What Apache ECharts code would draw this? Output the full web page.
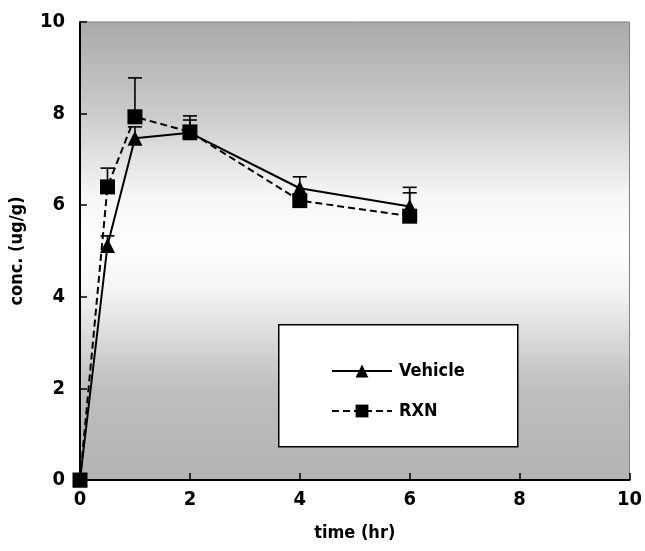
<!DOCTYPE html>
<html>
<head>
<meta charset="utf-8">
<script src="https://cdn.jsdelivr.net/npm/echarts@6/dist/echarts.min.js"></script>
<style>html,body{margin:0;padding:0;background:#fff}#c{width:645px;height:551px}</style>
</head>
<body>
<div id="c"></div>
<script>
const times = [0, 0.5, 1, 2, 4, 6];
const vehicle = [0, 5.12, 7.46, 7.58, 6.37, 5.97];
const vehicleUpper = [0, 5.33, 7.71, 7.86, 6.62, 6.27];
const rxn = [0, 6.40, 7.93, 7.60, 6.10, 5.76];
const rxnUpper = [0, 6.81, 8.78, 7.95, 6.20, 6.39];
const xTicks = [0, 2, 4, 6, 8, 10];
const yTicks = [0, 2, 4, 6, 8, 10];

const FONT = '"DejaVu Sans Condensed", "Liberation Sans Narrow", "Liberation Sans", Arial, sans-serif';

function pairs(xs, ys) { return xs.map((x, i) => [x, ys[i]]); }
function errData(xs, ys, up) { return xs.map((x, i) => [x, ys[i], up[i]]); }

function errRender(params, api) {
  const x = api.value(0), y = api.value(1), u = api.value(2);
  if (u <= y) return null;
  const p0 = api.coord([x, y]);
  const p1 = api.coord([x, u]);
  const hw = 7;
  const style = { stroke: '#000', lineWidth: 1.6 };
  return {
    type: 'group',
    children: [
      { type: 'line', shape: { x1: p0[0], y1: p0[1], x2: p1[0], y2: p1[1] }, style },
      { type: 'line', shape: { x1: p1[0] - hw, y1: p1[1], x2: p1[0] + hw, y2: p1[1] }, style }
    ]
  };
}

const chart = echarts.init(document.getElementById('c'));
chart.setOption({
  animation: false,
  backgroundColor: '#fff',
  grid: {
    left: 79, right: 15, top: 22, bottom: 71,
    show: true,
    borderColor: '#808080', borderWidth: 1,
    backgroundColor: {
      type: 'linear', x: 0, y: 0, x2: 0, y2: 1,
      colorStops: [
        { offset: 0, color: '#aaaaaa' },
        { offset: 0.2, color: '#cbcbcb' },
        { offset: 0.38, color: '#f6f6f6' },
        { offset: 0.48, color: '#ffffff' },
        { offset: 0.58, color: '#f6f6f6' },
        { offset: 0.8, color: '#bebebe' },
        { offset: 1, color: '#b4b4b4' }
      ]
    }
  },
  xAxis: {
    type: 'value', min: 0, max: 10, interval: 2,
    name: 'time (hr)', nameLocation: 'middle', nameGap: 44,
    nameTextStyle: { fontFamily: FONT, fontWeight: 'bold', fontSize: 18, color: '#000' },
    axisLine: { lineStyle: { color: '#000', width: 2 } },
    axisTick: { inside: true, length: 7, lineStyle: { color: '#000', width: 1.5 } },
    axisLabel: { fontFamily: FONT, fontWeight: 'bold', fontSize: 20, color: '#000', margin: 10,
      formatter: v => xTicks.includes(v) ? String(v) : '' },
    splitLine: { show: false }
  },
  yAxis: {
    type: 'value', min: 0, max: 10, interval: 2,
    name: 'conc. (ug/g)', nameLocation: 'middle', nameGap: 54, nameRotate: 90,
    nameTextStyle: { fontFamily: FONT, fontWeight: 'bold', fontSize: 18, color: '#000' },
    axisLine: { show: true, lineStyle: { color: '#000', width: 2 } },
    axisTick: { show: true, inside: true, length: 7, lineStyle: { color: '#000', width: 1.5 } },
    axisLabel: { fontFamily: FONT, fontWeight: 'bold', fontSize: 20, color: '#000', margin: 15,
      formatter: v => yTicks.includes(v) ? String(v) : '' },
    splitLine: { show: false }
  },
  legend: {
    orient: 'vertical',
    left: 326, top: 357,
    itemWidth: 60, itemHeight: 16, itemGap: 22,
    textStyle: { fontFamily: FONT, fontWeight: 'bold', fontSize: 18, color: '#000', padding: [0, 0, 0, 2] },
    data: ['Vehicle', 'RXN']
  },
  graphic: [{
    type: 'rect', left: 278, top: 324, z: 0,
    shape: { width: 239, height: 122 },
    style: { fill: '#fff', stroke: '#000', lineWidth: 1.5 }
  }],
  series: [
    {
      name: 'RXN-err', type: 'custom', renderItem: errRender,
      data: errData(times, rxn, rxnUpper), z: 3, silent: true
    },
    {
      name: 'Vehicle-err', type: 'custom', renderItem: errRender,
      data: errData(times, vehicle, vehicleUpper), z: 3, silent: true
    },
    {
      name: 'RXN', type: 'line', data: pairs(times, rxn),
      symbol: 'rect', symbolSize: 15,
      lineStyle: { color: '#000', width: 2, type: [7, 4] },
      itemStyle: { color: '#000' }, z: 4
    },
    {
      name: 'Vehicle', type: 'line', data: pairs(times, vehicle),
      symbol: 'triangle', symbolSize: 15,
      lineStyle: { color: '#000', width: 2, type: 'solid' },
      itemStyle: { color: '#000' }, z: 5
    }
  ]
});
</script>
</body>
</html>
